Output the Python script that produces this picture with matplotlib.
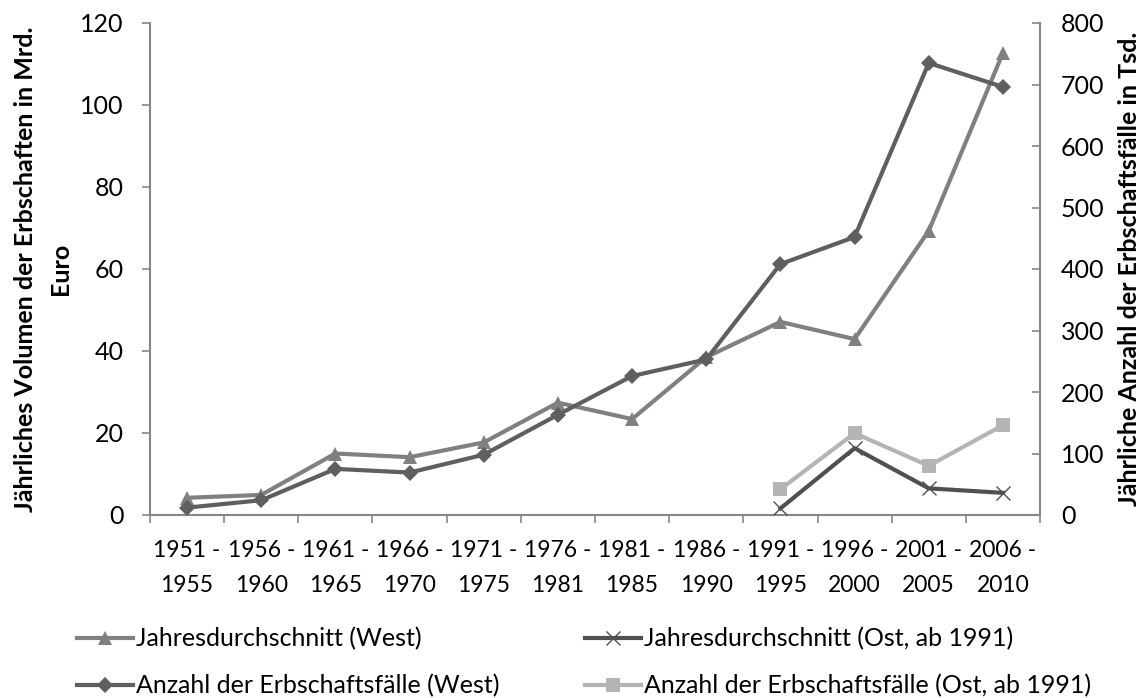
import matplotlib
matplotlib.use("Agg")
import matplotlib.pyplot as plt
import numpy as np

plt.rcParams['font.family'] = ['Lato', 'DejaVu Sans']

categories = ["1951 -\n1955", "1956 -\n1960", "1961 -\n1965", "1966 -\n1970",
              "1971 -\n1975", "1976 -\n1981", "1981 -\n1985", "1986 -\n1990",
              "1991 -\n1995", "1996 -\n2000", "2001 -\n2005", "2006 -\n2010"]

# Left axis: Mrd. Euro
volumen_west = [4.2, 4.9, 15.0, 14.1, 17.7, 27.4, 23.4, 38.5, 47.1, 42.9, 69.3, 112.7]
volumen_ost = [None] * 8 + [1.6, 16.3, 6.5, 5.4]
# Right axis: Tsd.
anzahl_west = [12, 24, 75, 69, 98, 163, 226, 253, 408, 452, 735, 696]
anzahl_ost = [None] * 8 + [42, 133, 80, 146]

yl_ticks = [0, 20, 40, 60, 80, 100, 120]
yr_ticks = [0, 100, 200, 300, 400, 500, 600, 700, 800]

def arr(v):
    return np.array([np.nan if x is None else x for x in v], dtype=float)

W, H = 1148, 698
fig = plt.figure(figsize=(W / 100, H / 100), dpi=100)
ax = fig.add_axes([150 / W, 1 - 515 / H, (1040 - 150) / W, (515 - 23) / H])
ax2 = ax.twinx()

x = np.arange(len(categories))
c_tri = "#808080"
c_dia = "#5f5f5f"
c_x = "#505050"
c_sq = "#b4b4b4"
lw = 3.0

l1, = ax.plot(x, arr(volumen_west), color=c_tri, lw=lw, marker="^", ms=10.5,
              markeredgewidth=0, label="Jahresdurchschnitt (West)", zorder=3)
l2, = ax.plot(x, arr(volumen_ost), color=c_x, lw=lw, marker="x", ms=10,
              markeredgewidth=1.0, label="Jahresdurchschnitt (Ost, ab 1991)", zorder=3)
l3, = ax2.plot(x, arr(anzahl_west), color=c_dia, lw=lw, marker="D", ms=8,
               markeredgewidth=0, label="Anzahl der Erbschaftsfälle (West)", zorder=3)
l4, = ax2.plot(x, arr(anzahl_ost), color=c_sq, lw=lw, marker="s", ms=10,
               markeredgewidth=0, label="Anzahl der Erbschaftsfälle (Ost, ab 1991)", zorder=3)

fs = 18
fs_x = 16.5
fs_leg = 18
spine_c = "#868686"

ax.set_xlim(-0.5, len(categories) - 0.5)
ax.set_ylim(0, 120)
ax2.set_ylim(0, 800)
ax.set_yticks(yl_ticks)
ax2.set_yticks(yr_ticks)
ax.set_xticks(x)
ax.set_xticklabels(categories, fontsize=fs_x, linespacing=1.85)
ax.set_xticks(np.arange(-0.5, len(categories), 1.0), minor=True)
ax.tick_params(axis="x", which="major", length=0, pad=18)
ax.tick_params(axis="x", which="minor", length=6, color=spine_c, width=1.2)
ax.tick_params(axis="y", labelsize=fs, length=6, color=spine_c, width=1.2, pad=13)
ax2.tick_params(axis="y", labelsize=fs, length=6, color=spine_c, width=1.2,
                direction="in", pad=15)

for a in (ax, ax2):
    a.spines["top"].set_visible(False)
    for s in ("left", "right", "bottom"):
        a.spines[s].set_color(spine_c)
        a.spines[s].set_linewidth(1.5)
ax.spines["right"].set_visible(False)
ax2.spines["left"].set_visible(False)
ax2.spines["bottom"].set_visible(False)

ax.set_ylabel("Jährliches Volumen der Erbschaften in Mrd.\nEuro", fontsize=fs,
              fontweight="bold", linespacing=1.6, labelpad=6)
ax2.set_ylabel("Jährliche Anzahl der Erbschaftsfälle in Tsd.", fontsize=fs,
               fontweight="bold", labelpad=10)

leg_kw = dict(loc="upper left", frameon=False, fontsize=fs_leg, handlelength=2.24,
              handletextpad=0.1, labelspacing=0.95, borderpad=0, borderaxespad=0)
legA = fig.legend(handles=[l1, l3], bbox_to_anchor=(77 / W, 1 - 627 / H), **leg_kw)
legB = fig.legend(handles=[l2, l4], bbox_to_anchor=(585 / W, 1 - 627 / H), **leg_kw)

fig.savefig("out.png", dpi=100)
